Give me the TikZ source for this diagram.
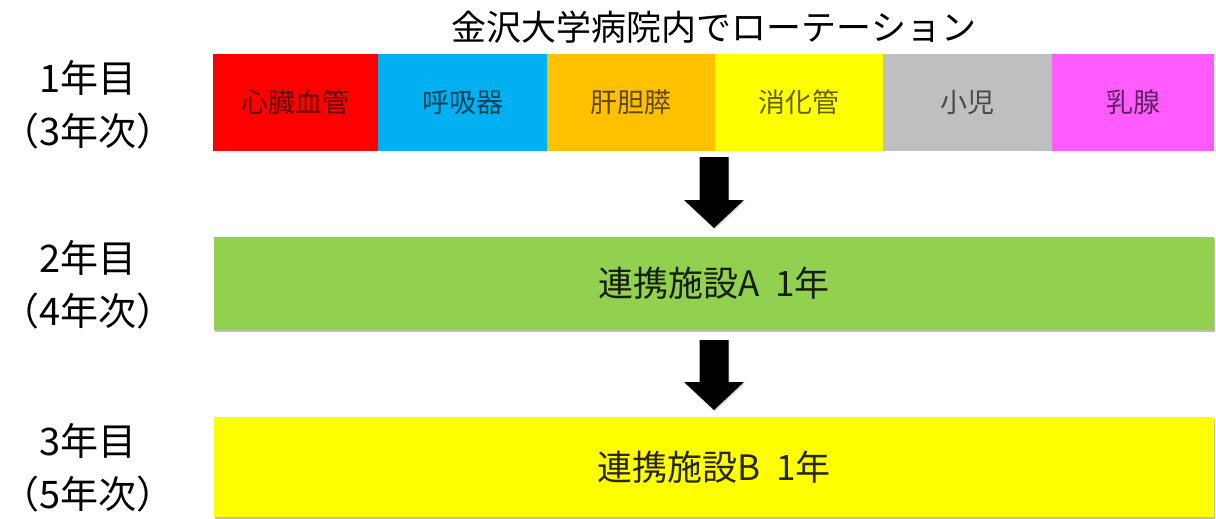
\documentclass[tikz,border=0pt]{standalone}
\usepackage{fontspec}
\setmainfont{Noto Sans CJK JP}
\usetikzlibrary{calc,shadows}
\definecolor{cRed}{HTML}{FF0000}
\definecolor{cBlue}{HTML}{00B0F0}
\definecolor{cOrange}{HTML}{FFC000}
\definecolor{cYellow}{HTML}{FFFF00}
\definecolor{cGray}{HTML}{BFBFBF}
\definecolor{cPink}{HTML}{FF5BFF}
\definecolor{cGreen}{HTML}{92D050}
\tikzset{
  rowbox/.style={fill=#1, text=black!62!#1, draw=none, anchor=north west,
    minimum height=97pt, inner sep=0pt, outer sep=0pt,
    font=\fontsize{27}{30}\selectfont},
  bigbox/.style={fill=#1, text=black!85!#1, draw=none, anchor=north west,
    minimum width=1000pt, inner sep=0pt, outer sep=0pt,
    font=\fontsize{35}{40}\selectfont,
    drop shadow={shadow xshift=0.8pt, shadow yshift=-1.5pt, opacity=0.35, fill=black!50!brown}},
  yearlabel/.style={align=center, inner sep=0pt, font=\fontsize{38}{53}\selectfont},
  titlelabel/.style={inner sep=0pt, font=\fontsize{35}{40}\selectfont},
  arrowfill/.style={fill=black, drop shadow={shadow xshift=0.8pt, shadow yshift=-1.5pt, opacity=0.3}}
}
\newcommand{\blkarrow}[2]{%
  \fill[arrowfill] let \p1=(#1), \p2=(#2) in
   (\x1-14.5pt,\y1) -- (\x1+14.5pt,\y1) -- (\x1+14.5pt,\y2+28pt) -- (\x1+30pt,\y2+28pt)
   -- (\x1,\y2) -- (\x1-30pt,\y2+28pt) -- (\x1-14.5pt,\y2+28pt) -- cycle;}
\begin{document}
\begin{tikzpicture}[x=1pt,y=-1pt]
\useasboundingbox[fill=white] (0,0) rectangle (1216,519);
% title
\node[titlelabel] (title) at (714,27) {金沢大学病院内でローテーション};
% year labels
\node[yearlabel] (y1) at (88,105) {1年目\\（3年次）};
\node[yearlabel] (y2) at (88,285) {2年目\\（4年次）};
\node[yearlabel] (y3) at (88,468) {3年目\\（5年次）};
% top row
\node[rowbox=cRed, minimum width=165pt] (red) at (213,54) {心臓血管};
\node[rowbox=cBlue, minimum width=169pt] (blue) at (red.north east) {呼吸器};
\node[rowbox=cOrange, minimum width=168pt] (orange) at (blue.north east) {肝胆膵};
\node[rowbox=cYellow, minimum width=168pt] (yellow) at (orange.north east) {消化管};
\node[rowbox=cGray, minimum width=169pt] (gray) at (yellow.north east) {小児};
\node[rowbox=cPink, minimum width=162pt] (pink) at (gray.north east) {乳腺};
% big boxes
\node[bigbox=cGreen, minimum height=93pt] (green) at (214,237) {連携施設A\hspace{0.45em}1年};
\node[bigbox=cYellow, minimum height=100pt] (ybox) at (214,417) {連携施設B\hspace{0.45em}1年};
% arrows
\coordinate (a1s) at ($(orange.south east)+(-1,6)$);
\coordinate (a1e) at ($(green.north)+(0,-9)$);
\coordinate (a2s) at ($(green.south)+(0,10)$);
\coordinate (a2e) at ($(ybox.north)+(0,-7)$);
\blkarrow{a1s}{a1e}
\blkarrow{a2s}{a2e}
\end{tikzpicture}
\end{document}
